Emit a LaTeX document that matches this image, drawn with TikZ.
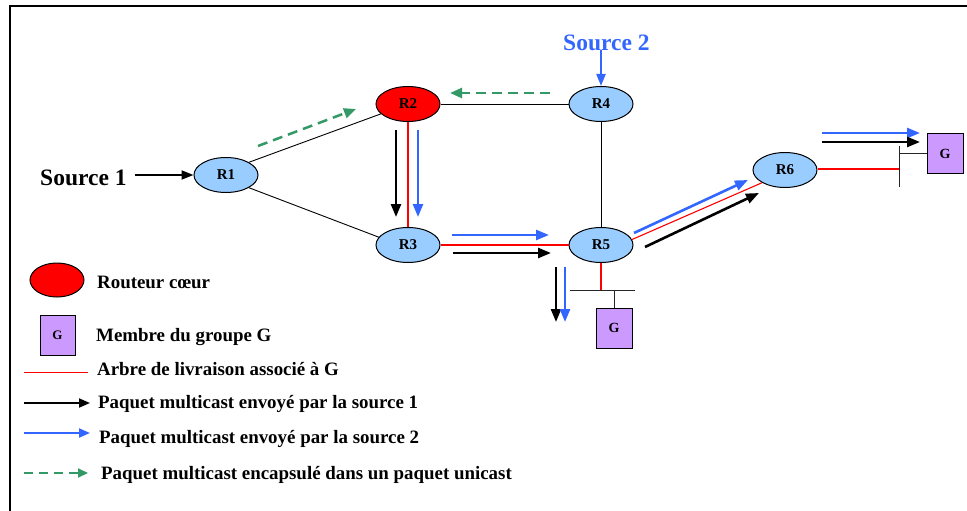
\documentclass[tikz,border=0pt]{standalone}
\usepackage{fontspec}
\setmainfont{Liberation Serif}
\usetikzlibrary{shapes.geometric,arrows.meta}
\definecolor{routerblue}{RGB}{153,204,255}
\definecolor{corered}{RGB}{255,0,0}
\definecolor{memberviolet}{RGB}{204,153,255}
\definecolor{srcblue}{RGB}{51,102,255}
\definecolor{tunnelgreen}{RGB}{51,153,102}

\begin{document}
\begin{tikzpicture}[x=1pt,y=-1pt,
  router/.style={ellipse, draw, line width=1pt, fill=routerblue,
    minimum width=64pt, minimum height=35pt, inner sep=0pt,
    font=\fontsize{15}{15}\selectfont\bfseries},
  core/.style={router, fill=corered},
  member/.style={rectangle, draw, line width=1pt, fill=memberviolet,
    minimum width=36pt, minimum height=40pt, inner sep=0pt,
    font=\fontsize{14}{14}\selectfont\bfseries},
  link/.style={line width=0.9pt},
  bus/.style={line width=1pt, draw=black!85},
  tree/.style={draw=corered, line width=1.1pt},
  pkta/.style={line width=2.6pt, -{Triangle[length=13pt,width=10pt]}},
  pktb/.style={srcblue, line width=2.6pt, -{Triangle[length=13pt,width=10pt]}},
  tunnel/.style={tunnelgreen, line width=2.5pt, dash pattern=on 10pt off 6pt,
    -{Triangle[length=12pt,width=10pt]}},
  srclabel/.style={anchor=base west, inner sep=0pt, font=\fontsize{23.5}{23.5}\selectfont\bfseries},
  legtext/.style={anchor=base west, inner sep=0pt, font=\fontsize{18.9}{18.9}\selectfont\bfseries},
]
\useasboundingbox (0,0) rectangle (967,511);

% frame
\coordinate (fbl) at (10,511);
\coordinate (ftl) at (10,6);
\coordinate (ftr) at (967,6);
\draw[line width=2pt] (fbl) -- (ftl) -- (ftr);

% routers
\node[router] (R1) at (226,175) {R1};
\node[core]   (R2) at (408,104) {R2};
\node[router] (R3) at (408,245) {R3};
\node[router] (R4) at (601,104) {R4};
\node[router] (R5) at (601,245) {R5};
\node[router] (R6) at (785,170) {R6};

% group members and their segments
\node[member] (GR) at (945,153.5) {G};
\node[member] (GB) at (614,328) {G};
\coordinate (barRt) at (899,146);
\coordinate (barRb) at (899,187);
\coordinate (barRm) at (899,153.5);
\coordinate (barRr) at (899,169);
\coordinate (barBl) at (570,290);
\coordinate (barBr) at (635,290);
\coordinate (barBm) at (614,290);
\coordinate (barBt) at (601,290);
\draw[bus] (barRt) -- (barRb);
\draw[bus] (barRm) -- (GR.west);
\draw[bus] (barBl) -- (barBr);
\draw[bus] (barBm) -- (GB.north);

% plain links
\draw[link] (R1.north east) -- (R2.200);
\draw[link] (R1.south east) -- (R3.165);
\draw[link] (R2.east) -- (R4.west);
\draw[link] (R4.south) -- (R5.north);

% delivery tree
\draw[tree] (R2.south) -- (R3.north);
\draw[tree] (R3.east) -- (R5.west);
\draw[tree] (R5.10) -- (R6.south west);
\draw[tree] (R6.east |- barRr) -- (barRr);
\draw[tree] (R5.south) -- (barBt);

% sources
\node[srclabel] (S1) at (40,185) {Source 1};
\node[srclabel, text=srcblue] (S2) at (563,51) {Source 2};
\coordinate (s1a) at (135,175);
\coordinate (s2a) at (601,50);
\draw[line width=2pt, -{Triangle[length=12pt,width=9pt]}] (s1a) -- (R1.west);
\draw[srcblue, line width=2pt, -{Triangle[length=12pt,width=9pt]}] (s2a) -- (R4.north);

% packet flows
\coordinate (a23s) at (396,130); \coordinate (a23e) at (396,217);
\coordinate (b23s) at (418,130); \coordinate (b23e) at (418,217);
\draw[pkta] (a23s) -- (a23e);
\draw[pktb] (b23s) -- (b23e);

\coordinate (b35s) at (452,235); \coordinate (b35e) at (549,235);
\coordinate (a35s) at (453,253); \coordinate (a35e) at (551,253);
\draw[pktb] (b35s) -- (b35e);
\draw[pkta] (a35s) -- (a35e);

\coordinate (a5ds) at (556,267); \coordinate (a5de) at (556,322);
\coordinate (b5ds) at (565,267); \coordinate (b5de) at (565,322);
\draw[pkta] (a5ds) -- (a5de);
\draw[pktb] (b5ds) -- (b5de);

\coordinate (b56s) at (634,233); \coordinate (b56e) at (748,180);
\coordinate (a56s) at (645,247); \coordinate (a56e) at (759,193);
\draw[pktb] (b56s) -- (b56e);
\draw[pkta] (a56s) -- (a56e);

\coordinate (b6gs) at (822,133); \coordinate (b6ge) at (920,133);
\coordinate (a6gs) at (822,142); \coordinate (a6ge) at (920,142);
\draw[pktb] (b6gs) -- (b6ge);
\draw[pkta] (a6gs) -- (a6ge);

% unicast encapsulation towards the core
\coordinate (t12s) at (258,146); \coordinate (t12e) at (356,109);
\coordinate (t42s) at (550,93);  \coordinate (t42e) at (450,93);
\draw[tunnel] (t12s) -- (t12e);
\draw[tunnel] (t42s) -- (t42e);

% legend
\node[core, minimum width=54pt, minimum height=34pt] (Lcore) at (57,280) {};
\node[legtext] (Lcoret) at (97,288) {Routeur cœur};
\node[member, minimum width=35pt, minimum height=40pt, font=\fontsize{13}{13}\selectfont\bfseries] (Lmem) at (57.5,335) {G};
\node[legtext] (Lmemt) at (96,341) {Membre du groupe G};
\coordinate (Ltrs) at (24,372); \coordinate (Ltre) at (88,372);
\draw[tree, line width=1pt] (Ltrs) -- (Ltre);
\node[legtext] (Ltrt) at (97,375) {Arbre de livraison associé à G};
\coordinate (Las) at (24,403); \coordinate (Lae) at (90,403);
\draw[line width=2pt, -{Triangle[length=11pt,width=9pt]}] (Las) -- (Lae);
\node[legtext] (Lat) at (98,408) {Paquet multicast envoyé par la source 1};
\coordinate (Lbs) at (24,433); \coordinate (Lbe) at (90,433);
\draw[srcblue, line width=2pt, -{Triangle[length=11pt,width=9pt]}] (Lbs) -- (Lbe);
\node[legtext] (Lbt) at (99,443) {Paquet multicast envoyé par la source 2};
\coordinate (Lgs) at (24,473); \coordinate (Lge) at (88,473);
\draw[tunnelgreen, line width=2.2pt, dash pattern=on 9pt off 6pt, -{Triangle[length=10pt,width=9pt]}] (Lgs) -- (Lge);
\node[legtext] (Lgt) at (101,479) {Paquet multicast encapsulé dans un paquet unicast};
\end{tikzpicture}
\end{document}
